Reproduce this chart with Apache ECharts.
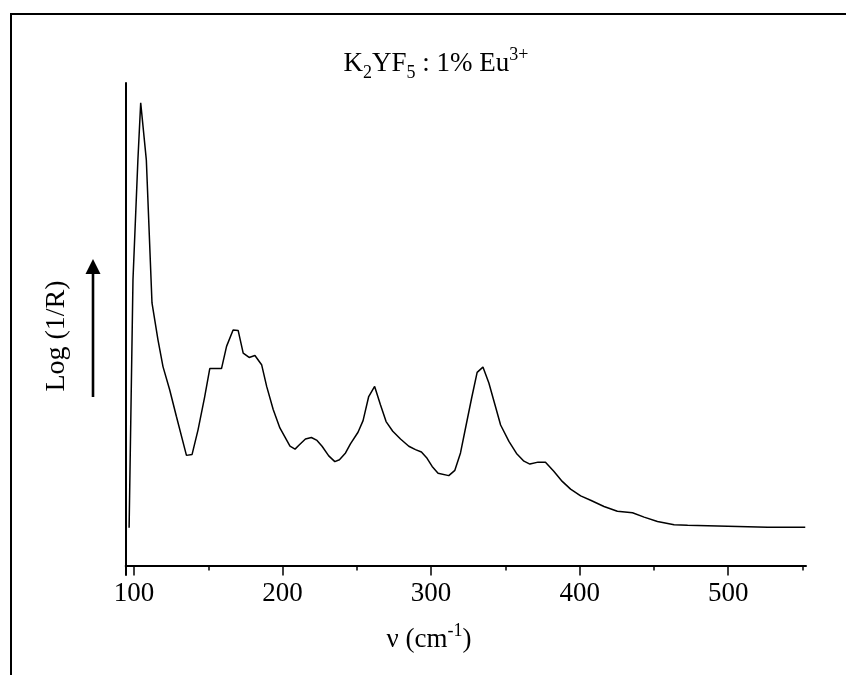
<!DOCTYPE html>
<html>
<head>
<meta charset="utf-8">
<script src="https://cdn.jsdelivr.net/npm/echarts@6/dist/echarts.min.js"></script>
<style>html,body{margin:0;padding:0;background:#fff}#c{width:846px;height:675px}</style>
</head>
<body>
<div id="c"></div>
<script>
const wavenumber = [96.7, 99.3, 102.6, 104.5, 108.3, 112.1, 116.1, 119.5, 124.0, 128.5, 135.3, 139.1, 143.1, 147.6, 151.0, 158.9, 162.3, 166.7, 170.1, 173.5, 177.5, 181.4, 185.9, 189.3, 193.7, 198.2, 205.0, 208.4, 211.0, 215.4, 219.4, 223.2, 226.6, 231.1, 235.2, 238.3, 242.4, 245.7, 250.8, 254.2, 258.0, 262.0, 265.9, 269.7, 274.2, 279.4, 285.0, 289.5, 293.5, 297.3, 300.7, 304.7, 311.9, 316.0, 319.8, 323.6, 327.3, 331.0, 334.9, 338.9, 343.0, 346.8, 352.4, 357.5, 362.5, 366.5, 372.0, 377.0, 382.6, 388.3, 393.9, 400.7, 407.4, 416.4, 425.4, 435.6, 443.4, 452.4, 463.6, 472.7, 499.7, 526.7, 551.9];
const logInvR = [7.8, 59.2, 84.0, 95.9, 84.0, 54.4, 46.8, 41.2, 36.4, 30.9, 22.8, 23.0, 28.1, 35.0, 40.8, 40.8, 45.4, 48.8, 48.7, 44.0, 43.1, 43.5, 41.6, 37.1, 32.3, 28.5, 24.7, 24.1, 24.9, 26.2, 26.5, 25.9, 24.7, 22.7, 21.5, 21.9, 23.3, 25.2, 27.6, 30.0, 35.0, 37.1, 33.3, 29.8, 27.8, 26.2, 24.7, 24.0, 23.5, 22.2, 20.5, 19.1, 18.6, 19.7, 23.3, 29.1, 34.7, 40.0, 41.1, 37.8, 33.3, 29.1, 25.7, 23.2, 21.6, 21.0, 21.4, 21.4, 19.5, 17.4, 15.8, 14.4, 13.5, 12.2, 11.2, 10.9, 10.0, 9.1, 8.4, 8.3, 8.1, 7.9, 7.9];
const majorTicks = [100, 200, 300, 400, 500];
const minorTicks = [150, 250, 350, 450, 550];
const titleText = '{n|K}{sub|2}{n|YF}{sub|5}{n| : 1% Eu}{sup|3+}';
const xName = '{n|\u03bd (cm}{sup|-1}{n|)}';
const yName = 'Log (1/R)';

const FONT = 'Liberation Serif';
const chart = echarts.init(document.getElementById('c'), null, {renderer: 'canvas'});
const richStyle = {
  n: {fontFamily: FONT, fontSize: 27, color: '#000', lineHeight: 36, verticalAlign: 'middle'},
  sub: {fontFamily: FONT, fontSize: 18, color: '#000', lineHeight: 36, verticalAlign: 'bottom'},
  sup: {fontFamily: FONT, fontSize: 18, color: '#000', lineHeight: 36, verticalAlign: 'top'}
};
const xMin = 94.4, xMax = 552.4;
chart.setOption({
  animation: false,
  backgroundColor: '#fff',
  grid: {left: 125.7, right: 40, top: 83, bottom: 100},
  xAxis: [{
    type: 'value', min: xMin, max: xMax, position: 'bottom', offset: -9.6,
    axisLine: {show: true, onZero: false, lineStyle: {color: '#000', width: 2}},
    axisTick: {show: true, customValues: majorTicks, length: 10, lineStyle: {color: '#000', width: 1.5}},
    axisLabel: {show: true, customValues: majorTicks, margin: 15, fontFamily: FONT, fontSize: 27, color: '#000'},
    splitLine: {show: false}
  }, {
    type: 'value', min: xMin, max: xMax, position: 'bottom', offset: -9.6,
    axisLine: {show: false, onZero: false},
    axisTick: {show: true, customValues: minorTicks, length: 5, lineStyle: {color: '#000', width: 1.5}},
    axisLabel: {show: false},
    splitLine: {show: false}
  }],
  yAxis: {
    type: 'value', min: -2, max: 100,
    axisLine: {show: true, onZero: false, lineStyle: {color: '#000', width: 2}},
    axisTick: {show: false}, axisLabel: {show: false}, splitLine: {show: false}
  },
  series: [{
    type: 'line', xAxisIndex: 0,
    data: wavenumber.map((x, i) => [x, logInvR[i]]),
    showSymbol: false, smooth: false,
    lineStyle: {color: '#000', width: 1.5}
  }],
  graphic: [
    {type: 'rect', shape: {x: 11, y: 14, width: 1000, height: 1000}, style: {fill: 'none', stroke: '#000', lineWidth: 2}, silent: true},
    {type: 'text', x: 436, y: 64, style: {text: titleText, rich: richStyle, align: 'center', verticalAlign: 'middle'}},
    {type: 'text', x: 429, y: 640, style: {text: xName, rich: richStyle, align: 'center', verticalAlign: 'middle'}},
    {type: 'text', x: 57, y: 336, rotation: Math.PI / 2, style: {text: yName, fontFamily: FONT, fontSize: 28, fill: '#000', align: 'center', verticalAlign: 'middle'}},
    {type: 'line', shape: {x1: 93, y1: 397, x2: 93, y2: 270}, style: {stroke: '#000', lineWidth: 2.6}},
    {type: 'polygon', shape: {points: [[93, 259], [85.5, 274], [100.5, 274]]}, style: {fill: '#000'}}
  ]
});
</script>
</body>
</html>
